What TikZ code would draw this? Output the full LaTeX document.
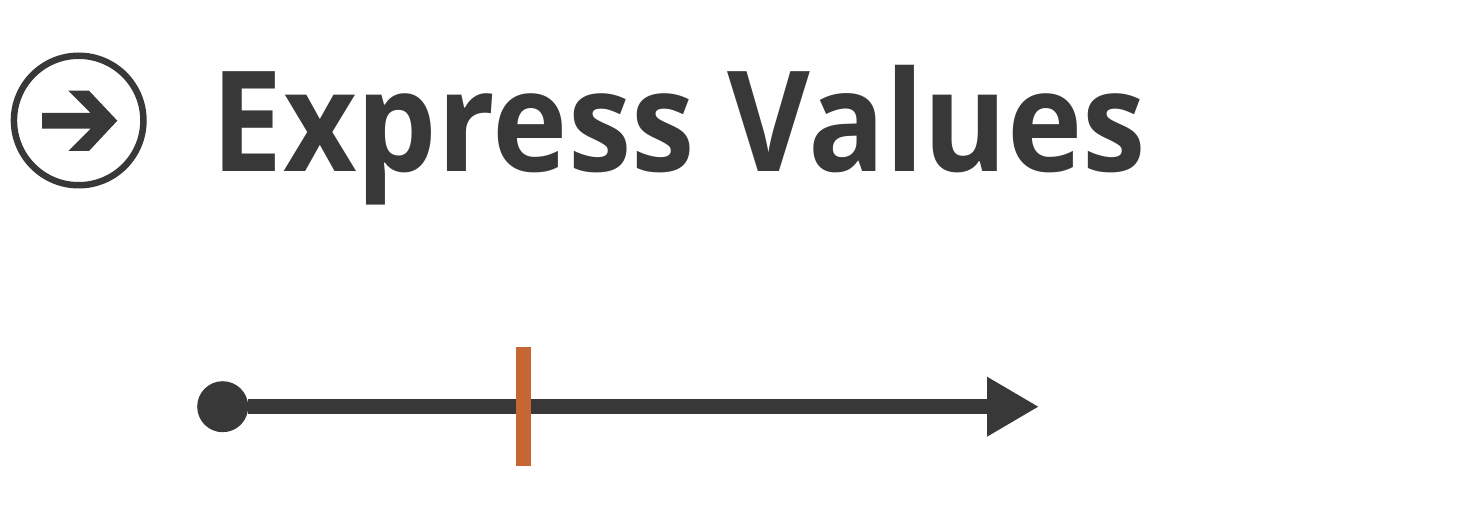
\documentclass[tikz,border=0pt]{standalone}
\usepackage{fontspec}
\setmainfont[FakeStretch=0.911]{Open Sans}
\usetikzlibrary{arrows.meta,positioning,calc}
\definecolor{darkgrey}{HTML}{383838}
\definecolor{markorange}{HTML}{C66731}
\tikzset{
  icon/.style={circle,draw=darkgrey,line width=0.65mm,minimum size=12.95mm,inner sep=0pt},
  title/.style={anchor=base west,inner sep=0pt,text=darkgrey,font=\bfseries\fontsize{39.8}{44}\selectfont},
  dot/.style={circle,fill=darkgrey,minimum size=5.1mm,inner sep=0pt,outer sep=0pt},
  axis/.style={line width=1.5mm,draw=darkgrey,-{Triangle[length=5.2mm,width=5.6mm]}},
  tickbar/.style={fill=markorange,minimum width=1.5mm,minimum height=11.9mm,inner sep=0pt}
}
\begin{document}
\begin{tikzpicture}[x=0.1mm,y=-0.1mm]
\useasboundingbox (0,0) rectangle (1459,525);
\node[icon] (round) at (78.7,120.5) {};
\fill[darkgrey] (42,113) -- (90.7,113) -- (68.3,90.7) -- (89,90.7) -- (117.3,120.7) -- (89,151) -- (68.3,151) -- (90.7,128.7) -- (42,128.7) -- cycle;
\node[title] (heading) at (211,172) {Express Values};
\node[dot] (start) at (222.7,406.7) {};
\coordinate (end) at (1039,406.7);
\draw[axis] (start) -- (end);
\node[tickbar] (value) at (523.5,406.8) {};
\end{tikzpicture}
\end{document}
